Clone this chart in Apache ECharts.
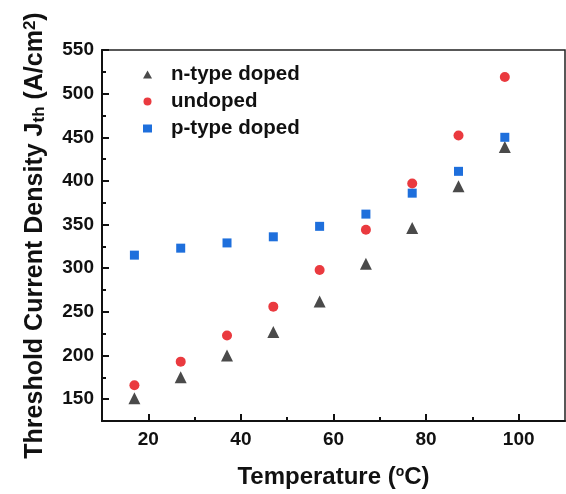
<!DOCTYPE html>
<html><head><meta charset="utf-8">
<script src="https://cdn.jsdelivr.net/npm/echarts@6/dist/echarts.min.js"></script>
<style>html,body{margin:0;padding:0;background:#fff}#c{width:566px;height:494px}</style>
</head><body><div id="c"></div>
<script>
const temperatures = [17, 27, 37, 47, 57, 67, 77, 87, 97];
const nType = [151, 175, 200, 227, 262, 305, 346, 394, 439];
const undoped = [166, 193, 223, 256, 298, 344, 397, 452, 519];
const pType = [315, 323, 329, 336, 348, 362, 386, 411, 450];
const xTickLabels = [20, 40, 60, 80, 100];
const xMinorTicks = [30, 50, 70, 90];
const yTickLabels = [150, 200, 250, 300, 350, 400, 450, 500, 550];
const yMinorTicks = [175, 225, 275, 325, 375, 425, 475, 525];

const pairs = ys => temperatures.map((t, i) => [t, ys[i]]);
const font = 'Liberation Sans, Arial, sans-serif';
const chart = echarts.init(document.getElementById('c'));
const baseX = {type:'value', min:10, max:110, gridIndex:0};
const baseY = {type:'value', min:125, max:550, gridIndex:0};
chart.setOption({
  animation:false,
  grid:{left:102, right:1, top:50, bottom:71, show:true, borderColor:'#222', borderWidth:1.5, containLabel:false},
  legend:{orient:'vertical', left:138, top:59, itemWidth:9, itemHeight:8, itemGap:6,
    textStyle:{fontFamily:font, fontWeight:'bold', fontSize:20.5, color:'#111', padding:[0,0,0,14]},
    data:['n-type doped','undoped','p-type doped']},
  xAxis:[
    Object.assign({}, baseX, {
      name:'Temperature ({sup|o}C)',
      nameLocation:'middle', nameGap:44,
      nameTextStyle:{fontFamily:font, fontWeight:'bold', fontSize:24, color:'#111',
        rich:{sup:{fontFamily:font, fontWeight:'bold', fontSize:14, color:'#111', verticalAlign:'top', padding:[0,0,9,0]}}},
      axisLine:{lineStyle:{color:'#111', width:2}},
      axisTick:{inside:true, length:7, lineStyle:{width:2, color:'#111'}, customValues:xTickLabels},
      axisLabel:{fontFamily:font, fontWeight:'bold', fontSize:19, color:'#111', margin:9, customValues:xTickLabels},
      splitLine:{show:false}
    }),
    Object.assign({}, baseX, {
      axisLine:{show:false},
      axisTick:{inside:true, length:4, lineStyle:{width:2, color:'#111'}, customValues:xMinorTicks},
      axisLabel:{show:false}, splitLine:{show:false}, position:'bottom'
    })
  ],
  yAxis:[
    Object.assign({}, baseY, {
      name:'Threshold Current Density J{sub|th} (A/cm{sup|2})',
      nameLocation:'middle', nameGap:54,
      nameTextStyle:{fontFamily:font, fontWeight:'bold', fontSize:25, color:'#111',
        rich:{sub:{fontFamily:font, fontWeight:'bold', fontSize:17, color:'#111', verticalAlign:'bottom', padding:[9,0,0,0]},
              sup:{fontFamily:font, fontWeight:'bold', fontSize:17, color:'#111', verticalAlign:'top', padding:[0,0,9,0]}}},
      axisLine:{lineStyle:{color:'#111', width:2}},
      axisTick:{inside:true, length:7, lineStyle:{width:2, color:'#111'}, customValues:yTickLabels},
      axisLabel:{fontFamily:font, fontWeight:'bold', fontSize:19, color:'#111', margin:8, customValues:yTickLabels},
      splitLine:{show:false}
    }),
    Object.assign({}, baseY, {
      axisLine:{show:false}, position:'left',
      axisTick:{inside:true, length:4, lineStyle:{width:2, color:'#111'}, customValues:yMinorTicks},
      axisLabel:{show:false}, splitLine:{show:false}
    })
  ],
  series:[
    {name:'n-type doped', type:'scatter', symbol:'triangle', symbolSize:12, data:pairs(nType), itemStyle:{color:'#4a4a4a', opacity:1}},
    {name:'undoped', type:'scatter', symbol:'circle', symbolSize:10, data:pairs(undoped), itemStyle:{color:'#ea3a3f', opacity:1}},
    {name:'p-type doped', type:'scatter', symbol:'rect', symbolSize:9, data:pairs(pType), itemStyle:{color:'#1e6fdc', opacity:1}}
  ]
});
</script></body></html>
